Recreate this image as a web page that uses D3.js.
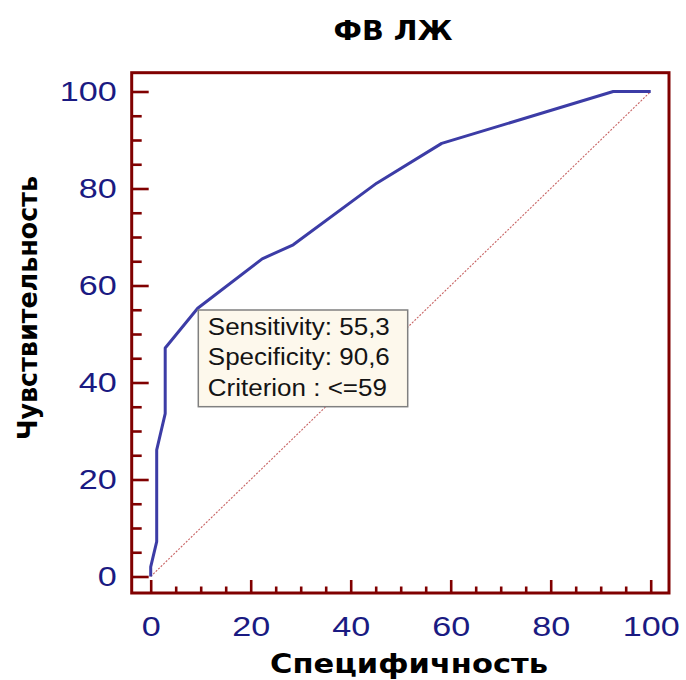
<!DOCTYPE html>
<html><head><meta charset="utf-8">
<script src="https://cdn.jsdelivr.net/npm/d3@7"></script>
<style>body{margin:0;background:#fff}</style>
</head><body><svg id="c" width="686" height="680"></svg>
<script>
const chartTitle = "ФВ ЛЖ";
const xTitle = "Специфичность";
const yTitle = "Чувствительность";
// x = 100 - Specificity, y = Sensitivity
const oneMinusSpec = [0, 0, 1.2, 1.2, 2.9, 2.9, 9.4, 22.3, 28.5, 45.2, 58.2, 92.5, 100];
const sensitivity  = [0, 2, 7.2, 26.1, 33.6, 47.1, 55.3, 65.5, 68.4, 81.1, 89.3, 100, 100];
const majorTicks = [0, 20, 40, 60, 80, 100];
const minorTicks = [5, 10, 15, 25, 30, 35, 45, 50, 55, 65, 70, 75, 85, 90, 95];
const tickLabels = ["0", "20", "40", "60", "80", "100"];
const criterionPoint = [9.4, 55.3];
const tooltipLines = ["Sensitivity: 55,3", "Specificity: 90,6", "Criterion : <=59"];

const svg = d3.select('#c');
const dark = '#800000';
const frame = {l: 131.7, t: 72.7, r: 669, b: 593};
const x = d3.scaleLinear().domain([0, 100]).range([150.7, 650.7]);
const y = d3.scaleLinear().domain([0, 100]).range([576.5, 91.5]);

function stretch(sel, f) {
  sel.each(function() {
    const w = this.getComputedTextLength();
    d3.select(this).attr('textLength', w * f).attr('lengthAdjust', 'spacingAndGlyphs');
  });
}

// diagonal reference line
svg.append('line')
  .attr('x1', x(0)).attr('y1', y(0)).attr('x2', x(100)).attr('y2', y(100))
  .attr('stroke', '#c86464').attr('stroke-width', 1.1).attr('stroke-dasharray', '2,1.5');

// ROC curve
const pts = oneMinusSpec.map((v, i) => [v, sensitivity[i]]);
svg.append('path').datum(pts)
  .attr('d', d3.line().x(d => x(d[0])).y(d => y(d[1])))
  .attr('fill', 'none').attr('stroke', '#3c3ca6').attr('stroke-width', 3)
  .attr('stroke-linejoin', 'round');

// tooltip box
const tx = x(criterionPoint[0]) + 0.6, ty = y(criterionPoint[1]) + 1.7;
svg.append('rect').attr('x', tx).attr('y', ty).attr('width', 209.4).attr('height', 96.7)
  .attr('fill', '#fdf8ec').attr('stroke', '#808080').attr('stroke-width', 1.5);
const tt = svg.append('g').selectAll('text').data(tooltipLines).join('text')
  .attr('x', tx + 9.5).attr('y', (d, i) => ty + 25 + i * 30.5)
  .attr('font-family', 'Liberation Sans, Arial, sans-serif').attr('font-size', 23)
  .attr('fill', '#141414').text(d => d);
stretch(tt, 1.13);

// frame
svg.append('rect').attr('x', frame.l).attr('y', frame.t)
  .attr('width', frame.r - frame.l).attr('height', frame.b - frame.t)
  .attr('fill', 'none').attr('stroke', dark).attr('stroke-width', 3);

// axes
function styleAxis(g) {
  g.select('.domain').remove();
  g.selectAll('.tick line').attr('stroke', dark).attr('stroke-width', 2.6);
}
const gyMin = svg.append('g').attr('transform', `translate(${frame.l},0)`)
  .call(d3.axisLeft(y).tickValues(minorTicks).tickSize(-10).tickFormat(''));
styleAxis(gyMin);
const gy = svg.append('g').attr('transform', `translate(${frame.l},0)`)
  .call(d3.axisLeft(y).tickValues(majorTicks).tickSize(-17).tickPadding(15)
    .tickFormat((d, i) => tickLabels[i]));
styleAxis(gy);
const gxMin = svg.append('g').attr('transform', `translate(0,${frame.b})`)
  .call(d3.axisBottom(x).tickValues(minorTicks).tickSize(-6.5).tickFormat(''));
styleAxis(gxMin);
const gx = svg.append('g').attr('transform', `translate(0,${frame.b})`)
  .call(d3.axisBottom(x).tickValues(majorTicks).tickSize(-13)
    .tickFormat((d, i) => tickLabels[i]));
styleAxis(gx);
gx.selectAll('.tick text').attr('y', 43).attr('dy', 0);

[gx, gy].forEach(g => {
  const t = g.selectAll('.tick text')
    .attr('font-family', 'Liberation Sans, Arial, sans-serif')
    .attr('font-size', 28).attr('fill', '#1a1a82');
  stretch(t, 1.22);
});

// titles
const title = svg.append('text').attr('x', 393).attr('y', 40).attr('text-anchor', 'middle')
  .attr('font-family', 'DejaVu Sans, sans-serif').attr('font-weight', 'bold')
  .attr('font-size', 26).attr('fill', '#000').text(chartTitle);
title.attr('textLength', 119).attr('lengthAdjust', 'spacingAndGlyphs');

svg.append('text').attr('x', 409).attr('y', 673).attr('text-anchor', 'middle')
  .attr('font-family', 'DejaVu Sans, sans-serif').attr('font-weight', 'bold')
  .attr('font-size', 26).attr('fill', '#000').text(xTitle)
  .attr('textLength', 278).attr('lengthAdjust', 'spacingAndGlyphs');

svg.append('text').attr('transform', 'translate(37,308) rotate(-90)')
  .attr('text-anchor', 'middle')
  .attr('font-family', 'DejaVu Sans, sans-serif').attr('font-weight', 'bold')
  .attr('font-size', 27).attr('fill', '#000').text(yTitle)
  .attr('textLength', 264).attr('lengthAdjust', 'spacingAndGlyphs');
</script></body></html>
